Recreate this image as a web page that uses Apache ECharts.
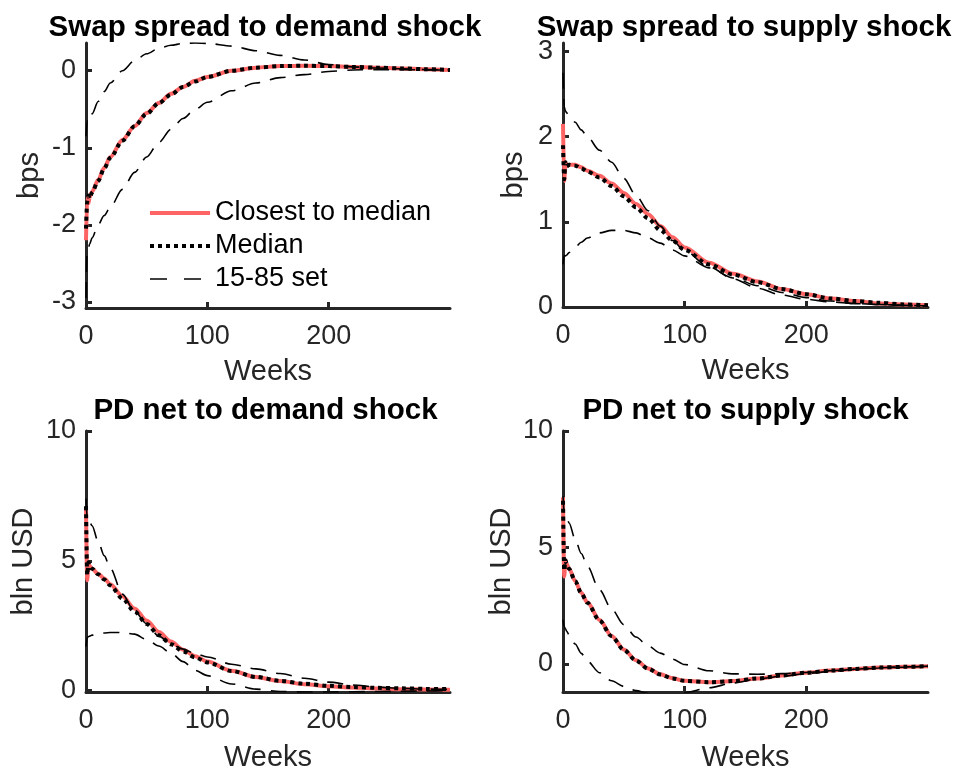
<!DOCTYPE html>
<html>
<head>
<meta charset="utf-8">
<script src="https://cdn.jsdelivr.net/npm/echarts@6/dist/echarts.min.js"></script>
<style>
html,body{margin:0;padding:0;background:#fff;}
#chart{width:962px;height:773px;}
</style>
</head>
<body>
<div id="chart"></div>
<script>
// ---- data (weeks after shock) ----
const weeks = [0,1,2,3,5,10,15,20,30,40,50,60,70,80,90,100,120,140,160,180,200,220,240,260,280,300];

// Swap spread to demand shock (bps)
const ssDemandClosest = [-2.2,-1.65,-1.72,-1.64,-1.57,-1.42,-1.26,-1.12,-0.9,-0.72,-0.55,-0.42,-0.3,-0.21,-0.13,-0.08,0.0,0.04,0.06,0.065,0.06,0.05,0.04,0.03,0.02,0.01];
const ssDemandMedian  = [-2.05,-1.7,-1.62,-1.66,-1.58,-1.43,-1.27,-1.13,-0.91,-0.72,-0.56,-0.42,-0.31,-0.21,-0.14,-0.08,0.0,0.04,0.06,0.065,0.06,0.05,0.04,0.03,0.02,0.01];
const ssDemandHi      = [-0.85,-0.65,-0.67,-0.64,-0.56,-0.4,-0.27,-0.16,0.0,0.13,0.22,0.29,0.33,0.355,0.36,0.355,0.32,0.26,0.2,0.14,0.08,0.05,0.035,0.025,0.015,0.01];
const ssDemandLo      = [-2.95,-2.32,-2.3,-2.25,-2.17,-2.0,-1.88,-1.77,-1.54,-1.32,-1.12,-0.93,-0.76,-0.62,-0.5,-0.41,-0.26,-0.16,-0.09,-0.05,-0.01,0.01,0.015,0.015,0.01,0.01];

// Swap spread to supply shock (bps)
const ssSupplyClosest = [2.15,1.48,1.7,1.66,1.67,1.67,1.64,1.6,1.54,1.45,1.34,1.21,1.09,0.95,0.82,0.7,0.52,0.39,0.3,0.21,0.15,0.1,0.07,0.04,0.03,0.02];
const ssSupplyMedian  = [1.9,1.5,1.7,1.65,1.67,1.66,1.63,1.59,1.52,1.42,1.3,1.17,1.04,0.9,0.78,0.67,0.5,0.38,0.29,0.21,0.15,0.1,0.07,0.05,0.03,0.02];
const ssSupplyHi      = [2.75,2.35,2.3,2.28,2.25,2.17,2.08,2.0,1.84,1.7,1.51,1.31,1.13,0.95,0.78,0.66,0.47,0.33,0.22,0.14,0.09,0.06,0.04,0.03,0.02,0.01];
const ssSupplyLo      = [0.5,0.6,0.6,0.61,0.64,0.7,0.76,0.81,0.87,0.9,0.9,0.87,0.81,0.75,0.67,0.6,0.46,0.34,0.25,0.17,0.11,0.07,0.04,0.03,0.02,0.01];

// PD net to demand shock (bln USD)
const pdDemandClosest = [7.0,4.25,4.9,4.8,4.7,4.5,4.32,4.1,3.64,3.17,2.7,2.26,1.89,1.58,1.33,1.12,0.77,0.53,0.37,0.25,0.17,0.12,0.08,0.06,0.05,0.04];
const pdDemandMedian  = [7.1,4.45,4.95,4.8,4.7,4.48,4.28,4.05,3.55,3.05,2.57,2.14,1.79,1.51,1.28,1.09,0.76,0.53,0.38,0.27,0.19,0.14,0.11,0.09,0.07,0.06];
const pdDemandHi      = [7.4,6.7,6.6,6.5,6.35,5.75,5.2,4.72,3.72,3.05,2.58,2.1,1.8,1.6,1.43,1.3,1.02,0.84,0.66,0.48,0.33,0.22,0.14,0.09,0.06,0.05];
const pdDemandLo      = [1.7,2.05,2.08,2.1,2.14,2.19,2.22,2.24,2.24,2.18,1.97,1.72,1.45,1.12,0.78,0.58,0.26,0.06,-0.03,-0.05,-0.05,-0.04,-0.03,-0.02,-0.01,0.0];

// PD net to supply shock (bln USD)
const pdSupplyClosest = [7.15,3.75,4.45,4.3,4.08,3.56,3.05,2.64,1.88,1.2,0.62,0.15,-0.2,-0.45,-0.62,-0.73,-0.79,-0.74,-0.63,-0.5,-0.38,-0.29,-0.22,-0.16,-0.13,-0.1];
const pdSupplyMedian  = [7.0,4.0,4.45,4.3,4.08,3.55,3.04,2.62,1.86,1.18,0.6,0.14,-0.21,-0.46,-0.63,-0.73,-0.79,-0.74,-0.63,-0.5,-0.38,-0.29,-0.22,-0.16,-0.13,-0.1];
const pdSupplyHi      = [7.2,6.5,6.4,6.3,6.05,5.35,4.74,4.2,3.18,2.35,1.68,1.15,0.77,0.46,0.2,-0.03,-0.3,-0.43,-0.45,-0.42,-0.37,-0.3,-0.23,-0.17,-0.13,-0.1];
const pdSupplyLo      = [1.9,1.6,1.5,1.4,1.25,0.85,0.45,0.12,-0.38,-0.73,-0.97,-1.15,-1.27,-1.32,-1.3,-1.24,-1.03,-0.82,-0.65,-0.53,-0.42,-0.32,-0.24,-0.18,-0.14,-0.1];

const xTicks = [0,100,200];
const panels = [
  {title:'Swap spread to demand shock', yName:'bps', yTicks:[-3,-2,-1,0], yMin:-3.08, yMax:0.36,
   closest:ssDemandClosest, median:ssDemandMedian, hi:ssDemandHi, lo:ssDemandLo},
  {title:'Swap spread to supply shock', yName:'bps', yTicks:[0,1,2,3], yMin:0, yMax:3.1,
   closest:ssSupplyClosest, median:ssSupplyMedian, hi:ssSupplyHi, lo:ssSupplyLo},
  {title:'PD net to demand shock', yName:'bln USD', yTicks:[0,5,10], yMin:-0.05, yMax:10,
   closest:pdDemandClosest, median:pdDemandMedian, hi:pdDemandHi, lo:pdDemandLo},
  {title:'PD net to supply shock', yName:'bln USD', yTicks:[0,5,10], yMin:-1.21, yMax:10,
   closest:pdSupplyClosest, median:pdSupplyMedian, hi:pdSupplyHi, lo:pdSupplyLo}
];

// ---- layout ----
const FONT = '"Liberation Sans", Arial, Helvetica, sans-serif';
const AX = '#262626';
const RED = '#ff6464';
const grids = [
  {left:86, top:43, width:364, height:265},
  {left:563, top:43, width:365, height:264},
  {left:86, top:431, width:364, height:261},
  {left:563, top:431, width:365, height:262}
];
const yNameGaps = [42, 35, 48, 47];
const xNameGaps = [49, 49, 51, 51];
const titleCenters = [265, 744, 265.5, 745.5];
const titleTops = [13, 13, 396, 396];

const pairs = arr => weeks.map((w,i)=>[w, arr[i]]);

const option = {
  animation:false,
  backgroundColor:'#fff',
  textStyle:{fontFamily:FONT},
  title: panels.map((p,i)=>({
    text:p.title, left: titleCenters[i], top: titleTops[i], textAlign:'center', padding:0,
    textStyle:{fontFamily:FONT, fontSize:29.5, fontWeight:'bold', color:'#000'}
  })),
  legend:{
    data:[
      {name:'Closest to median', lineStyle:{color:RED, width:4, type:'solid'}},
      {name:'Median', lineStyle:{color:'#000', width:4, type:[4,4]}},
      {name:'15-85 set', lineStyle:{color:'#000', width:1.6, type:[17,17]}}
    ],
    orient:'vertical', left:143, top:193, itemWidth:60, itemHeight:14, itemGap:3,
    selectedMode:false,
    itemStyle:{opacity:0, color:'rgba(0,0,0,0)', borderWidth:0},
    textStyle:{fontFamily:FONT, fontSize:27, color:'#000', lineHeight:30}
  },
  grid: grids,
  xAxis: panels.map((p,i)=>({
    type:'value', gridIndex:i, min:0, max:300,
    name:'Weeks', nameLocation:'middle', nameGap:xNameGaps[i],
    nameTextStyle:{fontFamily:FONT, fontSize:29, color:AX},
    axisLine:{show:true, onZero:false, lineStyle:{color:AX, width:3}},
    axisTick:{show:true, inside:true, length:6, customValues:xTicks, lineStyle:{color:AX, width:3}},
    axisLabel:{fontFamily:FONT, fontSize:27, color:AX, margin:15, customValues:xTicks},
    splitLine:{show:false}
  })),
  yAxis: panels.map((p,i)=>({
    type:'value', gridIndex:i, min:p.yMin, max:p.yMax,
    name:p.yName, nameLocation:'middle', nameGap:yNameGaps[i],
    nameTextStyle:{fontFamily:FONT, fontSize:29, color:AX},
    axisLine:{show:true, onZero:false, lineStyle:{color:AX, width:3}},
    axisTick:{show:true, inside:true, length:6, customValues:p.yTicks, lineStyle:{color:AX, width:3}},
    axisLabel:{fontFamily:FONT, fontSize:27, color:AX, margin:10, customValues:p.yTicks},
    splitLine:{show:false}
  })),
  series: []
};

panels.forEach((p,i)=>{
  const base = {type:'line', xAxisIndex:i, yAxisIndex:i, symbol:'none', smooth:0.3, smoothMonotone:'x', clip:true, silent:true};
  option.series.push(Object.assign({}, base, {name:'Closest to median', data:pairs(p.closest), lineStyle:{color:RED, width:4}, itemStyle:{color:RED}, z:2}));
  option.series.push(Object.assign({}, base, {name:'Median', data:pairs(p.median), lineStyle:{color:'#000', width:4, type:[4,4]}, itemStyle:{color:'#000'}, z:3}));
  option.series.push(Object.assign({}, base, {name:'15-85 set', data:pairs(p.hi), lineStyle:{color:'#000', width:1.6, type:[16,10]}, itemStyle:{color:'#000'}, z:4}));
  option.series.push(Object.assign({}, base, {name:'15-85 set', data:pairs(p.lo), lineStyle:{color:'#000', width:1.6, type:[16,10]}, itemStyle:{color:'#000'}, z:4}));
});

const chart = echarts.init(document.getElementById('chart'), null, {renderer:'canvas'});
chart.setOption(option);
</script>
</body>
</html>
